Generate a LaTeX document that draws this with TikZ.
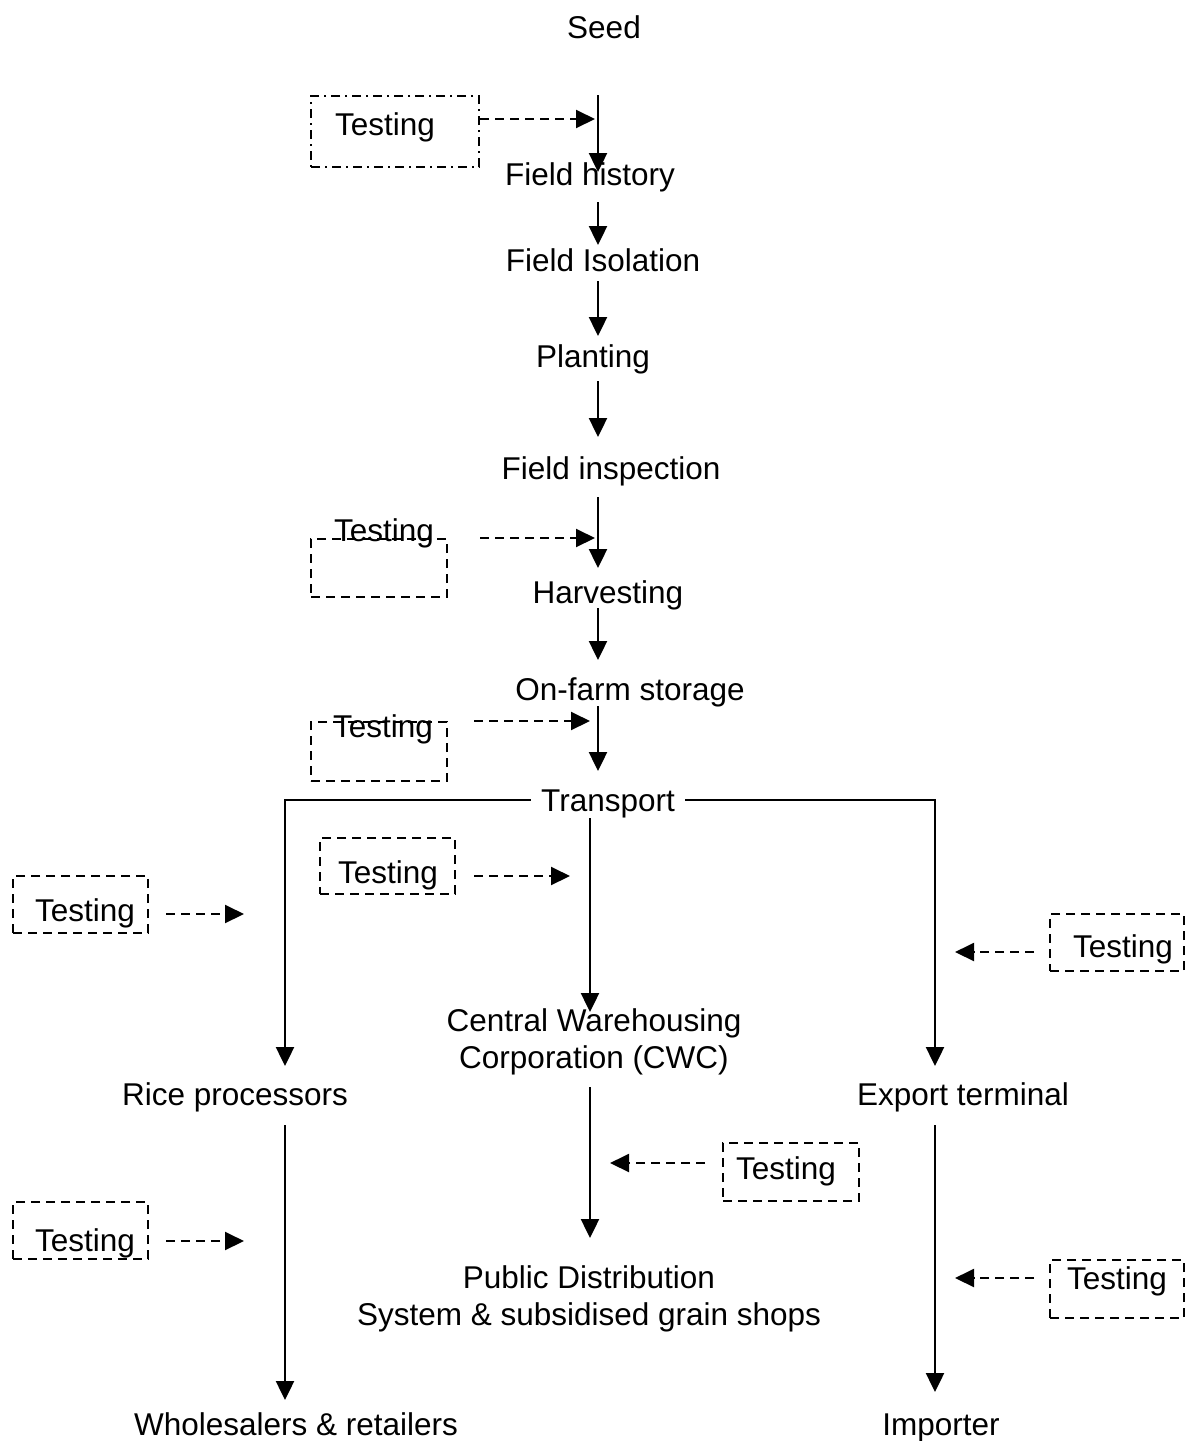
\documentclass[tikz,border=0pt]{standalone}
\usepackage{fontspec}
\setmainfont{Liberation Sans}
\usetikzlibrary{arrows.meta}

\newcommand{\lbfont}{\fontsize{31.5}{37}\selectfont}

\tikzset{
  lbl/.style={inner sep=0pt,font=\lbfont,text height=23pt,text depth=0pt},
  twoline/.style={inner sep=0pt,font=\lbfont,align=center},
  flow/.style={line width=2.4pt,-{Triangle[length=19pt,width=18pt]}},
  link/.style={line width=2.4pt},
  tbox/.style={draw,line width=2pt,dash pattern=on 9pt off 6pt,inner sep=0pt},
  tarrow/.style={line width=2pt,dash pattern=on 9pt off 6pt,-{Triangle[length=19pt,width=18pt]}},
}

\begin{document}
\begin{tikzpicture}[x=1pt,y=-1pt,line cap=butt]
  \useasboundingbox (0,0) rectangle (1186,1441);

  % Tunables
  \def\spine{598}   % x of the main column of arrows

  % Helper macro for one test box: (name, box centre, width, height, text centre)
  \newcommand{\testbox}[5]{%
    \node[tbox,minimum width=#3pt,minimum height=#4pt] (#1) at (#2) {};
    \node[lbl] (#1t) at (#5) {Testing};
  }

  % Stages
  \node[lbl] (seed)  at (604,27)  {Seed};
  \node[lbl] (fhist) at (590,174) {Field history};
  \node[lbl] (fiso)  at (603,260) {Field Isolation};
  \node[lbl] (plant) at (593,356) {Planting};
  \node[lbl] (finsp) at (611,468) {Field inspection};
  \node[lbl] (harv)  at (608,592) {Harvesting};
  \node[lbl] (store) at (630,689) {On-farm storage};
  \node[lbl,inner xsep=10pt] (trans) at (608,800) {Transport};
  \node[twoline] (cwc)    at (594,1042)  {Central Warehousing\\Corporation (CWC)};
  \node[lbl] (rice)   at (235,1094) {Rice processors};
  \node[lbl] (export) at (963,1094) {Export terminal};
  \node[twoline] (pds)    at (589,1299)  {Public Distribution\\System \& subsidised grain shops};
  \node[lbl] (whole)  at (296,1424) {Wholesalers \& retailers};
  \node[lbl] (imp)    at (941,1424) {Importer};

  % Main column
  \foreach \n/\ya/\yb in {1/95/172, 2/202/245, 3/281/336, 4/381/437, 5/497/568, 6/608/660, 7/706/771} {
    \coordinate (up\n) at (\spine,\ya);
    \coordinate (dn\n) at (\spine,\yb);
    \draw[flow] (up\n) -- (dn\n);
  }

  % Branches from transport
  \coordinate (ricein)   at (285,1066);
  \coordinate (exportin) at (935,1066);
  \coordinate (cwcout) at (590,818);
  \coordinate (cwcin)  at (590,1012);
  \draw[flow] (trans.west) -| (ricein);
  \draw[flow] (trans.east) -| (exportin);
  \draw[flow] (cwcout) -- (cwcin);

  % Lower arrows
  \coordinate (cwcdn)  at (590,1087);
  \coordinate (pdsin)  at (590,1238);
  \coordinate (ricedn) at (285,1125);
  \coordinate (wholein) at (285,1400);
  \coordinate (expdn)  at (935,1125);
  \coordinate (impin)  at (935,1392);
  \draw[flow] (cwcdn) -- (pdsin);
  \draw[flow] (ricedn) -- (wholein);
  \draw[flow] (expdn) -- (impin);

  % Test boxes
  \node[tbox,dash pattern=on 9pt off 5pt on 2pt off 5pt,minimum width=168pt,minimum height=71pt] (tb1) at (395,131.5) {};
  \node[lbl] (tb1t) at (385,124) {Testing};
  \testbox{tb2}{379,568}{136}{58}{384,530}
  \testbox{tb3}{379,751.5}{136}{59}{383,726}
  \testbox{tb4}{387.5,866}{135}{56}{388,872}
  \testbox{tb5}{80.5,904.5}{135}{57}{85,910}
  \testbox{tb6}{1117,942.5}{134}{57}{1123,946}
  \testbox{tb7}{791,1172}{136}{58}{786,1168}
  \testbox{tb8}{80.5,1230.5}{135}{57}{85,1240}
  \testbox{tb9}{1117,1289}{134}{58}{1117,1278}

  % Test arrows
  \coordinate (t1e) at (595,119);
  \coordinate (t2e) at (595,538);
  \coordinate (t3e) at (590,721);
  \coordinate (t4e) at (570,876);
  \coordinate (t5e) at (244,914);
  \coordinate (t6e) at (955,952);
  \coordinate (t7e) at (610,1163);
  \coordinate (t8e) at (244,1241);
  \coordinate (t9e) at (955,1278);
  \draw[tarrow] (tb1.east |- t1e) -- (t1e);
  \draw[tarrow] ([xshift=32pt]tb2.east |- t2e) -- (t2e);
  \draw[tarrow] ([xshift=26pt]tb3.east |- t3e) -- (t3e);
  \draw[tarrow] ([xshift=18pt]tb4.east |- t4e) -- (t4e);
  \draw[tarrow] ([xshift=17pt]tb5.east |- t5e) -- (t5e);
  \draw[tarrow] ([xshift=-15pt]tb6.west |- t6e) -- (t6e);
  \draw[tarrow] ([xshift=-17pt]tb7.west |- t7e) -- (t7e);
  \draw[tarrow] ([xshift=17pt]tb8.east |- t8e) -- (t8e);
  \draw[tarrow] ([xshift=-15pt]tb9.west |- t9e) -- (t9e);
\end{tikzpicture}
\end{document}
